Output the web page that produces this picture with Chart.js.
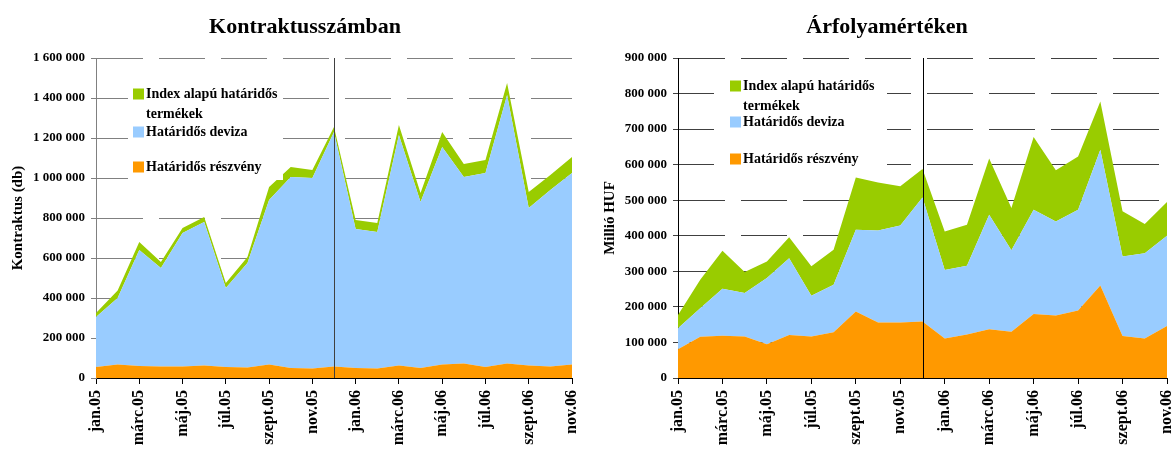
<!DOCTYPE html>
<html>
<head>
<meta charset="utf-8">
<script src="https://cdn.jsdelivr.net/npm/chart.js@4.4.1/dist/chart.umd.min.js"></script>
<style>
  html, body { margin: 0; padding: 0; background: #fff; overflow: hidden; }
  #wrap { position: relative; width: 1176px; height: 452px; }
  #left { position: absolute; left: 0; top: 0; }
  #right { position: absolute; left: 590px; top: 0; }
</style>
</head>
<body>
<div id="wrap">
  <canvas id="left" width="590" height="452"></canvas>
  <canvas id="right" width="586" height="452"></canvas>
</div>
<script>
const months = ['jan.05', 'febr.05', 'márc.05', 'ápr.05', 'máj.05', 'jún.05', 'júl.05', 'aug.05', 'szept.05', 'okt.05', 'nov.05', 'dec.05',
  'jan.06', 'febr.06', 'márc.06', 'ápr.06', 'máj.06', 'jún.06', 'júl.06', 'aug.06', 'szept.06', 'okt.06', 'nov.06'];
const seriesNames = ['Határidős részvény', 'Határidős deviza', 'Index alapú határidős termékek'];
const seriesColors = ['#ff9900', '#99ccff', '#99cc00'];
const yearBreak = 'dec.05';

// Kontraktusszámban (db)
const contractShares = [55000, 68000, 60000, 58000, 58000, 63000, 55000, 52000, 67000, 50000, 48000, 58000,
  50000, 48000, 63000, 50000, 67000, 73000, 55000, 73000, 62000, 58000, 68000];
const contractFx = [250000, 332000, 580000, 492000, 667000, 717000, 395000, 523000, 823000, 955000, 952000, 1172000,
  695000, 682000, 1152000, 830000, 1088000, 932000, 970000, 1342000, 788000, 882000, 957000];
const contractIndex = [20000, 38000, 40000, 30000, 25000, 25000, 25000, 30000, 65000, 50000, 40000, 25000,
  45000, 45000, 50000, 45000, 75000, 65000, 65000, 60000, 80000, 75000, 80000];
const contractTicks = [0, 200000, 400000, 600000, 800000, 1000000, 1200000, 1400000, 1600000];

// Árfolyamértéken (millió HUF)
const valueShares = [81000, 116000, 119000, 117000, 95000, 121000, 117000, 129000, 187000, 156000, 156000, 159000,
  111000, 122000, 137000, 130000, 180000, 176000, 190000, 260000, 118000, 111000, 146000];
const valueFx = [59000, 80000, 132000, 122000, 186000, 216000, 114000, 133000, 230000, 259000, 273000, 349000,
  193000, 194000, 322000, 229000, 293000, 264000, 283000, 382000, 224000, 240000, 254000];
const valueIndex = [37000, 80000, 107000, 59000, 47000, 59000, 83000, 99000, 147000, 135000, 110000, 80000,
  108000, 115000, 158000, 119000, 205000, 144000, 150000, 136000, 127000, 82000, 95000];
const valueTicks = [0, 100000, 200000, 300000, 400000, 500000, 600000, 700000, 800000, 900000];

const serif = '"Liberation Serif", "Times New Roman", serif';
const fmt = n => String(n).replace(/\B(?=(\d{3})+(?!\d))/g, ' ');

const panelTitle = {
  id: 'panelTitle',
  afterDraw(chart, args, opts) {
    const ctx = chart.ctx;
    ctx.save();
    ctx.font = 'bold 22px ' + serif;
    ctx.fillStyle = '#000';
    ctx.textAlign = 'center';
    ctx.textBaseline = 'middle';
    ctx.fillText(opts.text, opts.x, opts.y);
    ctx.restore();
  }
};

// legend drawn inside the plot, top item first, on a white box
const boxLegend = {
  id: 'boxLegend',
  afterDraw(chart, args, opts) {
    const {ctx, chartArea} = chart;
    const sx = chartArea.left + opts.dx;
    const rows = opts.rows.map(r => chartArea.top + r);
    ctx.save();
    ctx.fillStyle = '#fff';
    ctx.fillRect(sx - opts.boxLeft, rows[0] - 12, opts.boxWidth, rows[rows.length - 1] - rows[0] + 25);
    ctx.font = 'bold 14px ' + serif;
    ctx.textBaseline = 'middle';
    const items = chart.data.datasets.slice().reverse();
    items.forEach((ds, i) => {
      const cy = rows[i];
      ctx.fillStyle = ds.backgroundColor;
      ctx.fillRect(sx, cy - 5.5, 11, 11);
      ctx.fillStyle = '#000';
      const lines = [];
      let cur = '';
      ds.label.split(' ').forEach(w => {
        const t = cur ? cur + ' ' + w : w;
        if (cur && ctx.measureText(t).width > 140) { lines.push(cur); cur = w; } else cur = t;
      });
      lines.push(cur);
      lines.forEach((l, k) => ctx.fillText(l, sx + 13, cy + k * 20));
    });
    ctx.restore();
  }
};

const yearLine = {
  id: 'yearLine',
  afterDatasetsDraw(chart, args, opts) {
    const {ctx, chartArea} = chart;
    const x = Math.round(chart.scales.x.getPixelForValue(months.indexOf(opts.at))) + 0.5;
    ctx.save();
    ctx.strokeStyle = opts.color;
    ctx.lineWidth = 1;
    ctx.beginPath();
    ctx.moveTo(x, chartArea.top);
    ctx.lineTo(x, chartArea.bottom);
    ctx.stroke();
    ctx.restore();
  }
};

function makeChart(id, o) {
  return new Chart(document.getElementById(id), {
    type: 'line',
    data: {
      labels: months,
      datasets: o.series.map((d, i) => ({
        label: seriesNames[i],
        data: d,
        backgroundColor: seriesColors[i],
        borderWidth: 0,
        pointRadius: 0,
        tension: 0,
        fill: i === 0 ? 'origin' : '-1'
      }))
    },
    options: {
      responsive: false,
      animation: false,
      layout: { padding: { top: 58, right: o.padRight, left: 0, bottom: 0 } },
      plugins: {
        legend: { display: false },
        tooltip: { enabled: false },
        panelTitle: { text: o.title, x: o.titleX, y: 27 },
        boxLegend: o.legend,
        yearLine: { at: yearBreak, color: o.sepColor }
      },
      scales: {
        x: {
          grid: { drawOnChartArea: false, tickLength: 6, tickColor: '#000' },
          border: { color: '#000' },
          ticks: {
            autoSkip: false, minRotation: 90, maxRotation: 90, padding: 6, color: '#000',
            font: { family: serif, size: 16, weight: 'bold' },
            callback(v, i) { return i % 2 === 0 ? this.getLabelForValue(v) : null; }
          },
          afterFit(s) { s.height = 74; s.paddingLeft = 0; s.paddingRight = 0; }
        },
        y: {
          stacked: true,
          min: o.ticks[0],
          max: o.ticks[o.ticks.length - 1],
          ticks: {
            stepSize: o.ticks[1] - o.ticks[0], padding: 6, color: '#000',
            font: { family: serif, size: 13, weight: 'bold' },
            callback: v => fmt(v)
          },
          grid: { color: o.gridColor, tickLength: 5, tickColor: o.gridColor },
          border: { color: o.axisColor, dash: [46, 16] },
          title: {
            display: true, text: o.yTitle, color: '#000',
            font: { family: serif, size: 15, weight: 'bold' },
            padding: { top: o.yTitlePad, bottom: 0 }
          },
          afterFit(s) { s.width = o.axisWidth; s.paddingTop = 0; s.paddingBottom = 0; }
        }
      }
    },
    plugins: [panelTitle, boxLegend, yearLine]
  });
}

makeChart('left', {
  series: [contractShares, contractFx, contractIndex],
  ticks: contractTicks,
  title: 'Kontraktusszámban', titleX: 305,
  yTitle: 'Kontraktus (db)', yTitlePad: 9,
  axisWidth: 96, padRight: 18,
  gridColor: '#808080', axisColor: '#808080', sepColor: '#404040',
  legend: { dx: 37, rows: [36, 74, 109], boxLeft: 5, boxWidth: 155 }
});

makeChart('right', {
  series: [valueShares, valueFx, valueIndex],
  ticks: valueTicks,
  title: 'Árfolyamértéken', titleX: 297,
  yTitle: 'Millió HUF', yTitlePad: 11,
  axisWidth: 88, padRight: 9,
  gridColor: '#404040', axisColor: '#000', sepColor: '#000',
  legend: { dx: 52, rows: [28, 64, 101], boxLeft: 16, boxWidth: 173 }
});
</script>
</body>
</html>
